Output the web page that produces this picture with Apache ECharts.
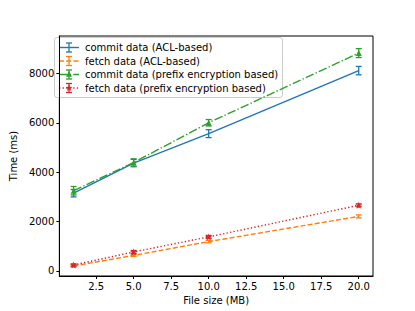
<!DOCTYPE html>
<html><head><meta charset="utf-8">
<script src="https://cdn.jsdelivr.net/npm/echarts@6/dist/echarts.min.js"></script>
<style>html,body{margin:0;padding:0;background:#fff}#c{width:415px;height:311px}</style>
</head><body><div id="c"></div>
<script>
const fileSizes = [1, 5, 10, 20];
const commitACL = [3150, 4370, 5560, 8110];
const commitACLErr = [150, 150, 160, 170];
const fetchACL = [200, 630, 1190, 2210];
const fetchACLErr = [40, 40, 50, 60];
const commitPrefix = [3250, 4390, 6000, 8820];
const commitPrefixErr = [170, 150, 130, 180];
const fetchPrefix = [240, 770, 1380, 2660];
const fetchPrefixErr = [50, 60, 60, 60];
const seriesNames = ['commit data (ACL-based)', 'fetch data (ACL-based)', 'commit data (prefix encryption based)', 'fetch data (prefix encryption based)'];
const xTicks = [2.5, 5, 7.5, 10, 12.5, 15, 17.5, 20];
const yTicks = [0, 2000, 4000, 6000, 8000];

const colors = ['#1f77b4', '#ff7f0e', '#2ca02c', '#d62728'];
const dashes = ['solid', [5, 2.2], [8.6, 2.2, 1.35, 2.2], [1.35, 2.2]];
const starPath = 'M0,-10 L2.35,-3.24 L9.51,-3.09 L3.8,1.24 L5.88,8.09 L0,4 L-5.88,8.09 L-3.8,1.24 L-9.51,-3.09 L-2.35,-3.24 Z';
const symbols = ['none', 'none', 'triangle', 'path://' + starPath];
const symbolSizes = [0, 0, 6, 7];
const vals = [commitACL, fetchACL, commitPrefix, fetchPrefix];
const errs = [commitACLErr, fetchACLErr, commitPrefixErr, fetchPrefixErr];
const FONT = 'DejaVu Sans';
const FS = 10;

const chart = echarts.init(document.getElementById('c'), null, {renderer: 'svg'});
const series = [];
for (let i = 0; i < 4; i++) {
  series.push({
    type: 'line', name: seriesNames[i],
    data: fileSizes.map((x, j) => [x, vals[i][j]]),
    lineStyle: {color: colors[i], width: 1.4, type: dashes[i]},
    itemStyle: {color: colors[i]},
    symbol: symbols[i], symbolSize: symbolSizes[i], showSymbol: i >= 2,
    z: 2 + i * 2, animation: false
  });
  series.push({
    type: 'custom', name: seriesNames[i] + ' err',
    data: fileSizes.map((x, j) => [x, vals[i][j], errs[i][j]]),
    z: 3 + i * 2, animation: false,
    renderItem: (params, api) => {
      const x = api.value(0), y = api.value(1), e = api.value(2);
      const lo = api.coord([x, y - e]), hi = api.coord([x, y + e]);
      const st = {stroke: colors[i], lineWidth: 1.3};
      return {type: 'group', children: [
        {type: 'line', shape: {x1: lo[0], y1: lo[1], x2: hi[0], y2: hi[1]}, style: st},
        {type: 'line', shape: {x1: lo[0] - 3, y1: lo[1], x2: lo[0] + 3, y2: lo[1]}, style: st},
        {type: 'line', shape: {x1: hi[0] - 3, y1: hi[1], x2: hi[0] + 3, y2: hi[1]}, style: st}
      ]};
    }
  });
}

function starPoints(cx, cy, r) {
  const pts = [];
  for (let k = 0; k < 10; k++) {
    const a = -Math.PI / 2 + k * Math.PI / 5;
    const rr = k % 2 === 0 ? r : r * 0.42;
    pts.push([cx + rr * Math.cos(a), cy + rr * Math.sin(a)]);
  }
  return pts;
}

const legendChildren = [{
  type: 'rect', shape: {x: 54.5, y: 37.5, width: 228, height: 60, r: 2.5},
  style: {fill: 'rgba(255,255,255,0.8)', stroke: '#cccccc', lineWidth: 1}
}];
const rowY = [47.5, 61, 74.5, 88];
for (let i = 0; i < 4; i++) {
  const y = rowY[i];
  const st = {stroke: colors[i], lineWidth: 1.4, lineDash: dashes[i] === 'solid' ? null : dashes[i]};
  legendChildren.push({type: 'line', shape: {x1: 59, y1: y, x2: 79, y2: y}, style: st});
  const es = {stroke: colors[i], lineWidth: 1.3};
  legendChildren.push({type: 'line', shape: {x1: 69, y1: y - 4.5, x2: 69, y2: y + 4.5}, style: es});
  legendChildren.push({type: 'line', shape: {x1: 66, y1: y - 4.5, x2: 72, y2: y - 4.5}, style: es});
  legendChildren.push({type: 'line', shape: {x1: 66, y1: y + 4.5, x2: 72, y2: y + 4.5}, style: es});
  if (i === 2) {
    legendChildren.push({type: 'polygon', shape: {points: [[69, y - 3.2], [72, y + 2.2], [66, y + 2.2]]}, style: {fill: colors[i]}});
  }
  if (i === 3) {
    legendChildren.push({type: 'polygon', shape: {points: starPoints(69, y, 3.6)}, style: {fill: colors[i]}});
  }
  legendChildren.push({type: 'text', x: 85, y: y, style: {text: seriesNames[i], font: FS + 'px "' + FONT + '"', fill: '#000', verticalAlign: 'middle'}});
}

chart.setOption({
  animation: false,
  grid: {left: 52, right: 42, top: 36, bottom: 35, show: true, borderColor: '#000', borderWidth: 1, backgroundColor: 'transparent'},
  xAxis: {
    type: 'value', min: 0.05, max: 20.95,
    name: 'File size (MB)', nameLocation: 'middle', nameGap: 17,
    nameTextStyle: {fontFamily: FONT, fontSize: FS, color: '#000'},
    axisLine: {show: true, onZero: false, lineStyle: {color: '#000', width: 1}},
    axisTick: {show: true, length: 3, customValues: xTicks, lineStyle: {color: '#000'}},
    axisLabel: {customValues: xTicks, fontFamily: FONT, fontSize: FS, color: '#000', margin: 5, formatter: v => v.toFixed(1)},
    splitLine: {show: false}
  },
  yAxis: {
    type: 'value', min: -203, max: 9512,
    name: 'Time (ms)', nameLocation: 'middle', nameGap: 31, nameRotate: 90,
    nameTextStyle: {fontFamily: FONT, fontSize: FS, color: '#000'},
    axisLine: {show: true, onZero: false, lineStyle: {color: '#000', width: 1}},
    axisTick: {show: true, length: 3, customValues: yTicks, lineStyle: {color: '#000'}},
    axisLabel: {customValues: yTicks, fontFamily: FONT, fontSize: FS, color: '#000', margin: 5, formatter: v => String(v)},
    splitLine: {show: false}
  },
  graphic: [{type: 'group', children: legendChildren, z: 100}],
  series: series
});
</script></body></html>
